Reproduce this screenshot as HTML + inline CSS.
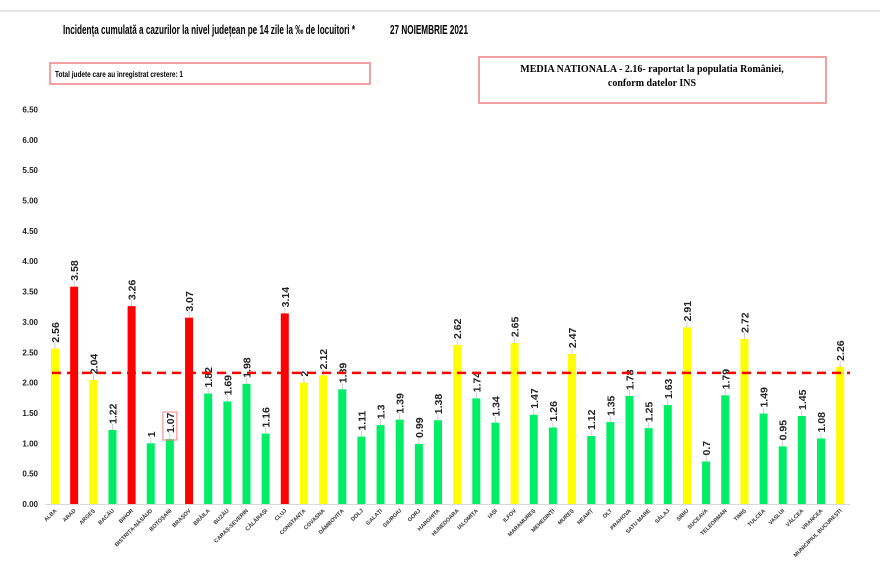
<!DOCTYPE html>
<html><head><meta charset="utf-8"><style>
body{margin:0;background:#fff;width:880px;height:583px;overflow:hidden}
</style></head><body>
<svg id="s" width="880" height="583" xmlns="http://www.w3.org/2000/svg" font-family="Liberation Sans, sans-serif">
<line x1="0" y1="11" x2="880" y2="11" stroke="#e6e6e6" stroke-width="2"/>
<text x="63" y="34" font-size="13" font-weight="bold" textLength="292" lengthAdjust="spacingAndGlyphs">Incidența cumulată a cazurilor la nivel județean pe 14 zile la ‰ de locuitori *</text>
<text x="390" y="34" font-size="13" font-weight="bold" textLength="78" lengthAdjust="spacingAndGlyphs">27 NOIEMBRIE 2021</text>
<rect x="50" y="63" width="320" height="21" fill="none" stroke="#f08080" stroke-width="1.5"/>
<text x="55" y="77" font-size="8" font-weight="bold" textLength="128" lengthAdjust="spacingAndGlyphs">Total judete care au inregistrat crestere: 1</text>
<rect x="479" y="57" width="347" height="46" fill="none" stroke="#f08080" stroke-width="1.5"/>
<text x="652" y="72" font-size="10" font-weight="bold" text-anchor="middle" font-family="Liberation Serif, serif">MEDIA NATIONALA - 2.16-  raportat la populatia României,</text>
<text x="652" y="86" font-size="10" font-weight="bold" text-anchor="middle" font-family="Liberation Serif, serif">conform datelor INS</text>
<g id="g"></g>
</svg>
<script>
var d=[["ALBA",2.56,"Y"],["ARAD",3.58,"R"],["ARGEȘ",2.04,"Y"],["BACĂU",1.22,"G"],["BIHOR",3.26,"R"],["BISTRIȚA-NĂSĂUD",1,"G"],["BOTOȘANI",1.07,"G"],["BRAȘOV",3.07,"R"],["BRĂILA",1.82,"G"],["BUZĂU",1.69,"G"],["CARAȘ-SEVERIN",1.98,"G"],["CĂLĂRAȘI",1.16,"G"],["CLUJ",3.14,"R"],["CONSTANȚA",2,"Y"],["COVASNA",2.12,"Y"],["DÂMBOVIȚA",1.89,"G"],["DOLJ",1.11,"G"],["GALAȚI",1.3,"G"],["GIURGIU",1.39,"G"],["GORJ",0.99,"G"],["HARGHITA",1.38,"G"],["HUNEDOARA",2.62,"Y"],["IALOMIȚA",1.74,"G"],["IAȘI",1.34,"G"],["ILFOV",2.65,"Y"],["MARAMUREȘ",1.47,"G"],["MEHEDINȚI",1.26,"G"],["MUREȘ",2.47,"Y"],["NEAMȚ",1.12,"G"],["OLT",1.35,"G"],["PRAHOVA",1.78,"G"],["SATU MARE",1.25,"G"],["SĂLAJ",1.63,"G"],["SIBIU",2.91,"Y"],["SUCEAVA",0.7,"G"],["TELEORMAN",1.79,"G"],["TIMIȘ",2.72,"Y"],["TULCEA",1.49,"G"],["VASLUI",0.95,"G"],["VÂLCEA",1.45,"G"],["VRANCEA",1.08,"G"],["MUNICIPIUL BUCUREȘTI",2.26,"Y"]];
var col={Y:"#ffff00",R:"#ff0000",G:"#00ee66"};
var y0=504,k=60.7,h='';
for(var v=0;v<=6.5001;v+=0.5){var y=y0-v*k;h+='<text x="38" y="'+(y+3)+'" font-size="8" font-weight="bold" text-anchor="end" fill="#222">'+v.toFixed(2)+'</text>';}
h+='<line x1="45" y1="504.5" x2="850" y2="504.5" stroke="#d9d9d9"/>';
d.forEach(function(e,i){var x=55+i*19.15,hh=e[1]*k;
h+='<rect x="'+(x-4)+'" y="'+(y0-hh)+'" width="8" height="'+hh+'" fill="'+col[e[2]]+'"/>';
var ty=y0-hh-6;
h+='<line x1="'+x+'" y1="'+(y0-hh)+'" x2="'+x+'" y2="'+(ty)+'" stroke="#bbb" stroke-width="0.7"/>';
h+='<text transform="translate('+(x+4)+','+ty+') rotate(-90)" font-size="10.5" font-weight="bold" fill="#222">'+e[1]+'</text>';
h+='<text transform="translate('+(x+2)+',511) rotate(-45)" font-size="5.5" font-weight="bold" text-anchor="end" fill="#333">'+e[0]+'</text>';
});
var my=y0-2.16*k;
h+='<line x1="52" y1="'+my+'" x2="850" y2="'+my+'" stroke="#ff0000" stroke-width="2.5" stroke-dasharray="9,6"/>';
var bx=55+6*19.15;
h+='<rect x="'+(bx-7)+'" y="412" width="14" height="28" fill="none" stroke="#f08080" stroke-width="1"/>';
document.getElementById('g').innerHTML=h;
</script>
</body></html>
